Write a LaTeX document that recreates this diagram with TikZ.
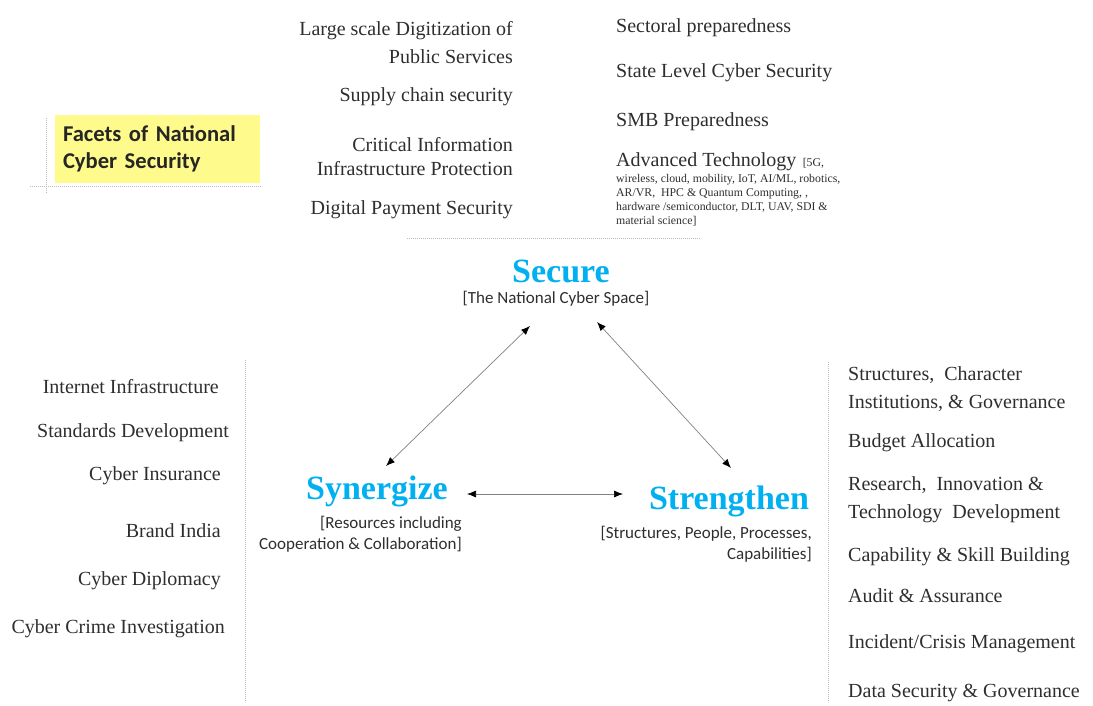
\documentclass[tikz,border=0pt]{standalone}
\usepackage{fontspec}
\setmainfont{Liberation Serif}
\newfontfamily\calfont{Carlito}
\usetikzlibrary{arrows.meta}
\definecolor{txt}{HTML}{2E2E2E}
\definecolor{cblue}{HTML}{00B0F0}
\definecolor{yel}{HTML}{FFFA8C}
\definecolor{dotc}{HTML}{BBBBBB}
\definecolor{lnc}{HTML}{808080}
\begin{document}
\begin{tikzpicture}[x=1pt,y=-1pt,
  every node/.style={inner sep=0pt, text=txt},
  item/.style={font=\fontsize{20}{28}\selectfont, text height=13pt, text depth=4pt},
  itemtwo/.style={font=\fontsize{20}{28}\selectfont},
  big/.style={font=\bfseries\fontsize{34}{40}\selectfont, text=cblue},
  sub/.style={font=\calfont\fontsize{17}{21}\selectfont},
  small/.style={font=\fontsize{11.8}{14}\selectfont},
  arr/.style={draw=lnc, line width=0.7pt, {Latex[length=9pt,width=7pt,color=black]}-{Latex[length=9pt,width=7pt,color=black]}},
  dotl/.style={draw=dotc, line width=0.8pt, dash pattern=on 0.8pt off 1.2pt}]
\useasboundingbox (0,0) rectangle (1093,705);

% title box
\node[fill=yel, minimum width=205pt, minimum height=68pt, text width=189pt, align=left,
      font=\calfont\bfseries\fontsize{22.6}{27}\selectfont, text=black!85] (facet) at (157.5,149) {Facets of National\\Cyber Security};

% dotted guide lines
\draw[dotl] (46,118) -- (46,193);
\draw[dotl] (30,186) -- (262,186);
\draw[dotl] (407,238) -- (700,238);
\draw[dotl] (245,360) -- (245,702);
\draw[dotl] (828,362) -- (828,702);

% top left column
\node[itemtwo, align=right, anchor=east] (t1) at (513,43) {Large scale Digitization of\\Public Services};
\node[item, anchor=east] (t2) at (513,97) {Supply chain security};
\node[align=right, anchor=east, font=\fontsize{20}{24}\selectfont] (t3) at (513,157) {Critical Information\\Infrastructure Protection};
\node[item, anchor=east] (t4) at (513,210) {Digital Payment Security};

% top right column
\node[item, anchor=west] (r1) at (616,28) {Sectoral preparedness};
\node[item, anchor=west] (r2) at (616,73) {State Level Cyber Security};
\node[item, anchor=west] (r3) at (616,122) {SMB Preparedness};
\node[item, anchor=west] (r4) at (616,162) {Advanced Technology};
\node[small, anchor=base west] (r4b) at ([xshift=6pt]r4.base east) {[5G,};
\node[small, anchor=north west, align=left] (r4c) at (616,174) {wireless, cloud, mobility, IoT, AI/ML, robotics,\\AR/VR, \ HPC \& Quantum Computing, ,\\hardware /semiconductor, DLT, UAV, SDI \&\\material science]};

% centre
\node[big] (sec) at (561,271) {Secure};
\node[sub] (secsub) at (556,299) {[The National Cyber Space]};
\node[big] (syn) at (377,491) {Synergize};
\node[sub, align=right, anchor=east] (synsub) at (462,534) {[Resources including\\Cooperation \& Collaboration]};
\node[big] (str) at (729,501) {Strengthen};
\node[sub, align=right, anchor=east] (strsub) at (812,544) {[Structures, People, Processes,\\Capabilities]};

\draw[arr] ([shift={(-26,27)}]secsub.center) -- ([shift={(9,-25)}]syn.center);
\draw[arr] ([shift={(41,23)}]secsub.center) -- ([shift={(2,-33)}]str.center);
\draw[arr] ([shift={(90,3)}]syn.center) -- ([shift={(-106,-7)}]str.center);

% left column
\node[item, anchor=east] (l1) at (219,389) {Internet Infrastructure};
\node[item, anchor=east] (l2) at (229,433) {Standards Development};
\node[item, anchor=east] (l3) at (221,476) {Cyber Insurance};
\node[item, anchor=east] (l4) at (221,533) {Brand India};
\node[item, anchor=east] (l5) at (221,581) {Cyber Diplomacy};
\node[item, anchor=east] (l6) at (225,629) {Cyber Crime Investigation};

% right column
\node[itemtwo, align=left, anchor=west] (s1) at (848,389) {Structures, \ Character\\Institutions, \& Governance};
\node[item, anchor=west] (s2) at (848,443) {Budget Allocation};
\node[itemtwo, align=left, anchor=west] (s3) at (848,499.5) {Research, \ Innovation \&\\Technology \ Development};
\node[item, anchor=west] (s4) at (848,557) {Capability \& Skill Building};
\node[item, anchor=west] (s5) at (848,598) {Audit \& Assurance};
\node[item, anchor=west] (s6) at (848,644) {Incident/Crisis Management};
\node[item, anchor=west] (s7) at (848,693) {Data Security \& Governance};
\end{tikzpicture}
\end{document}
